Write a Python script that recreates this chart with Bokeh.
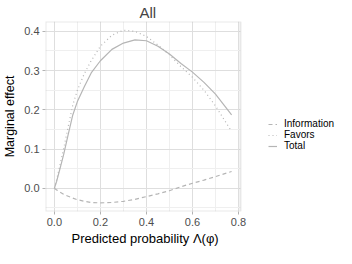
from bokeh.plotting import figure
from bokeh.models import (FixedTicker, PrintfTickFormatter, Legend, LegendItem, Range1d,
                          BoxAnnotation, Title)
from bokeh.embed import file_html
from bokeh.resources import INLINE

x = [0, 0.01, 0.02, 0.04, 0.06, 0.08, 0.10, 0.13, 0.16, 0.20, 0.25, 0.30, 0.35,
     0.40, 0.45, 0.50, 0.55, 0.60, 0.65, 0.70, 0.77]
information = [0, -0.004, -0.008, -0.015, -0.020, -0.025, -0.029, -0.033, -0.036, -0.037,
               -0.036, -0.033, -0.028, -0.021, -0.014, -0.006, 0.004, 0.013, 0.021, 0.030, 0.043]
favors = [0, 0.022, 0.048, 0.100, 0.157, 0.212, 0.250, 0.292, 0.325, 0.362, 0.390, 0.403,
          0.400, 0.387, 0.365, 0.340, 0.310, 0.283, 0.250, 0.210, 0.145]
total = [0, 0.018, 0.040, 0.085, 0.137, 0.187, 0.221, 0.259, 0.294, 0.325, 0.354, 0.370,
         0.378, 0.376, 0.362, 0.342, 0.318, 0.296, 0.270, 0.240, 0.187]
x_ticks = [0.0, 0.2, 0.4, 0.6, 0.8]
y_ticks = [0.0, 0.1, 0.2, 0.3, 0.4]
series_names = ["Information", "Favors", "Total"]

FONT = "Liberation Sans"
LINE = "#b5b5b5"
STYLES = [dict(line_dash="4 3"), dict(line_dash="1 3"), dict(line_dash="solid")]

X0, X1 = -0.0385, 0.8085      # panel extent (data + 5% expansion)
Y0, Y1 = -0.059, 0.425
X_FRAME_END = 1.2257          # frame extends to the right to hold the legend

p = figure(width=336, height=248, output_backend="svg", toolbar_location=None,
           x_range=Range1d(X0, X_FRAME_END), y_range=Range1d(Y0, Y1),
           min_border_left=36, min_border_right=0, min_border_top=20, min_border_bottom=37,
           title="All")
p.title.align = "left"
p.title.offset = 94
p.title.text_font = FONT
p.title.text_font_size = "15px"
p.title.text_font_style = "normal"
p.title.standoff = 2
p.outline_line_color = None

renderers = []
for ys, st in zip([information, favors, total], STYLES):
    renderers.append(p.line(x, ys, line_color=LINE, line_width=1.2, **st))

p.xaxis.ticker = FixedTicker(ticks=x_ticks, minor_ticks=[0.1, 0.3, 0.5, 0.7])
p.yaxis.ticker = FixedTicker(ticks=y_ticks, minor_ticks=[-0.05, 0.05, 0.15, 0.25, 0.35])
for ax in (p.xaxis, p.yaxis):
    ax.formatter = PrintfTickFormatter(format="%.1f")
    ax.axis_line_color = None
    ax.major_tick_line_color = "#b3b3b3"
    ax.major_tick_out = 3
    ax.major_tick_in = 0
    ax.minor_tick_line_color = None
    ax.major_label_text_font = FONT
    ax.major_label_text_font_size = "11px"
    ax.major_label_text_color = "#4d4d4d"
    ax.major_label_standoff = 2
p.yaxis.axis_label = "Marginal effect"
p.yaxis.axis_label_text_font = FONT
p.yaxis.axis_label_text_font_size = "12.5px"
p.yaxis.axis_label_text_font_style = "normal"
p.yaxis.axis_label_text_color = "#000000"
p.yaxis.axis_label_standoff = 4

xlabel = Title(text="Predicted probability Λ(φ)", align="left", offset=26,
               text_font=FONT, text_font_size="13px", text_font_style="normal",
               text_color="#000000", standoff=0)
p.add_layout(xlabel, "below")

p.xgrid.grid_line_color = "#dedede"
p.ygrid.grid_line_color = "#dedede"
p.xgrid.minor_grid_line_color = "#efefef"
p.ygrid.minor_grid_line_color = "#efefef"

# blank out the grid to the right of the panel, then draw the panel border
p.add_layout(BoxAnnotation(left=X1, fill_color="white", fill_alpha=1, line_color=None))
p.add_layout(BoxAnnotation(left=X0, right=X1, bottom=Y0, top=Y1, fill_alpha=0,
                           line_color="#b3b3b3", line_width=2))

items = [LegendItem(label=name, renderers=[r]) for name, r in zip(series_names, renderers)]
legend = Legend(items=items, location=(223, 60), border_line_color=None,
                background_fill_alpha=0, padding=0, margin=0, spacing=0,
                glyph_width=9, glyph_height=10, label_height=10, label_standoff=7,
                label_text_font=FONT, label_text_font_size="10px",
                label_text_color="#000000")
p.add_layout(legend, "center")

open("out.html", "w").write(file_html(p, INLINE))
